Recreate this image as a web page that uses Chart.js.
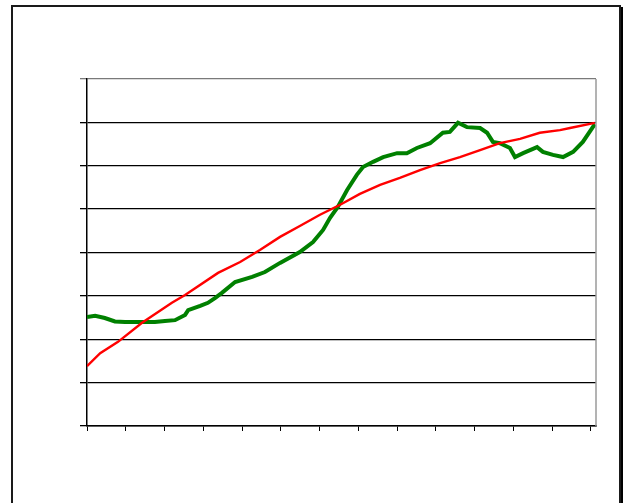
<!DOCTYPE html>
<html>
<head>
<meta charset="utf-8">
<script src="https://cdn.jsdelivr.net/npm/chart.js@4"></script>
<style>
  html, body { margin: 0; padding: 0; background: #fff; }
  #wrap { position: relative; width: 626px; height: 503px; overflow: hidden; }
  #c { position: absolute; left: 0; top: 0; }
  #frame { position: absolute; left: 11px; top: 5px; width: 610px; height: 540px; box-sizing: border-box;
           border: 2px solid #1a1a1a; box-shadow: 2px 2px 0 #000; pointer-events: none; }
</style>
</head>
<body>
<div id="wrap">
  <canvas id="c" width="626" height="503"></canvas>
  <div id="frame"></div>
</div>
<script>
// Period positions (x-axis units, one tick per unit) and values
const greenX = [0, 0.21, 0.46, 0.72, 0.98, 1.37, 1.75, 2.01, 2.27, 2.53, 2.61, 2.92, 3.12, 3.30, 3.48, 3.82, 4.26, 4.59, 4.98, 5.49, 5.83, 6.09, 6.27, 6.47, 6.71, 6.96, 7.12, 7.38, 7.64, 8.00, 8.25, 8.51, 8.85, 9.18, 9.36, 9.57, 9.80, 10.14, 10.32, 10.47, 10.65, 10.91, 11.04, 11.25, 11.61, 11.76, 12.02, 12.28, 12.54, 12.79, 13.10];
const greenY = [2.51, 2.54, 2.49, 2.41, 2.40, 2.40, 2.40, 2.42, 2.44, 2.56, 2.67, 2.77, 2.84, 2.95, 3.07, 3.32, 3.44, 3.55, 3.76, 4.01, 4.24, 4.52, 4.80, 5.05, 5.44, 5.79, 5.97, 6.09, 6.20, 6.29, 6.29, 6.41, 6.52, 6.76, 6.78, 6.99, 6.89, 6.87, 6.76, 6.55, 6.52, 6.41, 6.20, 6.29, 6.43, 6.32, 6.25, 6.20, 6.32, 6.55, 6.96];
const redX = [0, 0.34, 0.80, 1.42, 2.19, 2.53, 3.38, 3.95, 4.46, 4.98, 5.49, 6.01, 6.53, 7.04, 7.56, 8.07, 8.59, 9.11, 9.62, 10.14, 10.65, 11.17, 11.68, 12.20, 12.46, 13.10];
const redY = [1.38, 1.68, 1.94, 2.38, 2.84, 3.02, 3.53, 3.78, 4.06, 4.36, 4.61, 4.87, 5.10, 5.35, 5.56, 5.72, 5.90, 6.06, 6.20, 6.36, 6.52, 6.62, 6.76, 6.82, 6.87, 6.99];
const xTicks = [0, 1, 2, 3, 4, 5, 6, 7, 8, 9, 10, 11, 12, 13];
const yTicks = [0, 1, 2, 3, 4, 5, 6, 7, 8];

const toPts = (xs, ys) => xs.map((x, i) => ({ x: x, y: ys[i] }));

const borderPlugin = {
  id: 'plotBorder',
  afterDatasetsDraw(chart) {
    const { ctx, chartArea: a } = chart;
    ctx.save();
    ctx.strokeStyle = '#9a9a9a';
    ctx.lineWidth = 1.5;
    ctx.beginPath();
    ctx.moveTo(a.right, a.top);
    ctx.lineTo(a.right, a.bottom);
    ctx.stroke();
    ctx.restore();
  }
};

new Chart(document.getElementById('c'), {
  type: 'line',
  data: {
    datasets: [
      { data: toPts(redX, redY), borderColor: '#ff0000', borderWidth: 2.4, pointRadius: 0, tension: 0, fill: false },
      { data: toPts(greenX, greenY), borderColor: '#008000', borderWidth: 4, pointRadius: 0, tension: 0, fill: false }
    ]
  },
  options: {
    responsive: false,
    animation: false,
    devicePixelRatio: 1,
    layout: { padding: { left: 0, top: 79, right: 30, bottom: 0 } },
    plugins: { legend: { display: false }, tooltip: { enabled: false } },
    scales: {
      x: {
        type: 'linear',
        min: xTicks[0],
        max: 13.13,
        afterFit: s => { s.height = 77; },
        afterBuildTicks: s => { s.ticks = xTicks.map(v => ({ value: v })); },
        ticks: { display: false, includeBounds: false, stepSize: 1 },
        grid: { drawOnChartArea: false, drawTicks: true, tickLength: 5, color: '#000', lineWidth: 1 },
        border: { display: true, color: '#000', width: 1.5 }
      },
      y: {
        min: yTicks[0],
        max: yTicks[yTicks.length - 1],
        afterFit: s => { s.width = 87; },
        afterBuildTicks: s => { s.ticks = yTicks.map(v => ({ value: v })); },
        ticks: { display: false, stepSize: 1 },
        grid: {
          drawTicks: true, tickLength: 7, lineWidth: 1.3,
          color: c => (c.tick && c.tick.value === yTicks[yTicks.length - 1]) ? '#7a7a7a' : '#000'
        },
        border: { display: true, color: '#000', width: 1.5 }
      }
    }
  },
  plugins: [borderPlugin]
});
</script>
</body>
</html>
